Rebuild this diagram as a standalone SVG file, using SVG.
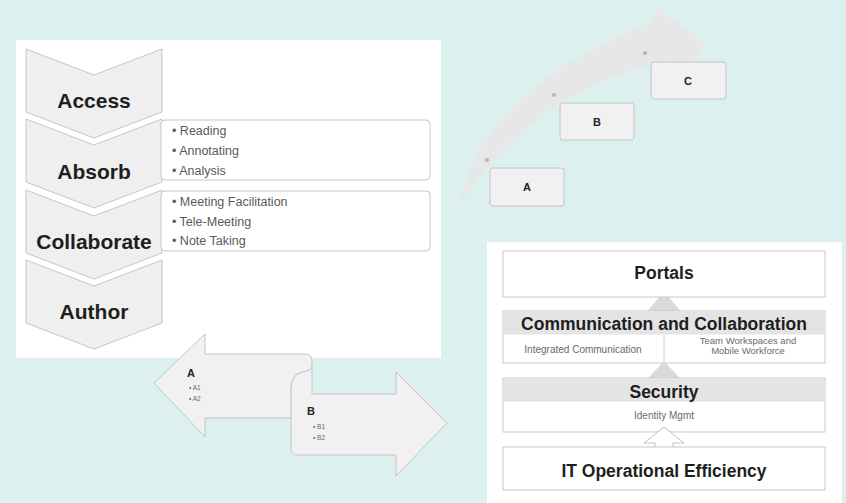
<svg xmlns="http://www.w3.org/2000/svg" width="846" height="503" viewBox="0 0 846 503">
<style>
.chev{fill:#efefef;stroke:#c6c6c6;stroke-width:1}
.lbl{font-family:"Liberation Sans",Arial,sans-serif;font-weight:bold;fill:#1e1e1e;text-anchor:middle}
.li{font-family:"Liberation Sans",Arial,sans-serif;font-size:12.5px;fill:#5a5a5a}
.tbox{fill:#fff;stroke:#c6c6c6;stroke-width:1}
.gbox{fill:#f1f1f1;stroke:#c4c4c4;stroke-width:1}
.sm{font-family:"Liberation Sans",Arial,sans-serif;font-weight:bold;fill:#222;text-anchor:middle}
.tiny{font-family:"Liberation Sans",Arial,sans-serif;font-size:6.5px;fill:#666}
.layer{fill:#fff;stroke:#c8c8c8;stroke-width:1}
.band{fill:#e4e4e4}
.sub{font-family:"Liberation Sans",Arial,sans-serif;font-size:10px;fill:#6a6a6a;text-anchor:middle}
.sub2{font-family:"Liberation Sans",Arial,sans-serif;font-size:9.5px;fill:#6a6a6a;text-anchor:middle}
.dot{fill:#b5b5b5}
</style>
<rect x="0" y="0" width="846" height="503" fill="#ddf0f0"/>
<rect x="16" y="40" width="425" height="318" fill="#fff"/>
<rect x="487" y="242" width="355" height="261" fill="#fff"/>

<g id="connectors">
  <path id="curved-arrow" d="M460,205 C472,140 520,75 652,22 L658,7 L707,45 L684,70 L671,60 C610,72 520,110 460,205 Z" fill="#e7e7e7"/>
  <circle class="dot" cx="487" cy="160" r="2"/>
  <circle class="dot" cx="554" cy="95" r="2"/>
  <circle class="dot" cx="645" cy="53" r="2"/>
  <path d="M664,292 L687,318 L641,318 Z" fill="#dadada"/>
  <path d="M664,361 L687,386 L641,386 Z" fill="#dadada"/>
</g>

<g id="chevron-access">
  <path class="chev" d="M26,49 L94,75 L162,49 L162,112 L94,138 L26,112 Z"/>
  <text class="lbl" x="94" y="108" font-size="21">Access</text>
</g>
<g id="chevron-absorb">
  <path class="chev" d="M26,119 L94,145 L162,119 L162,182 L94,208 L26,182 Z"/>
  <text class="lbl" x="94" y="179" font-size="21">Absorb</text>
</g>
<g id="chevron-collaborate">
  <path class="chev" d="M26,190 L94,216 L162,190 L162,253 L94,279 L26,253 Z"/>
  <text class="lbl" x="94" y="249" font-size="21">Collaborate</text>
</g>
<g id="chevron-author">
  <path class="chev" d="M26,260 L94,286 L162,260 L162,323 L94,349 L26,323 Z"/>
  <text class="lbl" x="94" y="319" font-size="21">Author</text>
</g>

<g id="box-absorb">
  <rect class="tbox" x="161" y="120" width="269" height="60" rx="4"/>
  <text class="li" x="172" y="135">• Reading</text>
  <text class="li" x="172" y="155">• Annotating</text>
  <text class="li" x="172" y="175">• Analysis</text>
</g>
<g id="box-collaborate">
  <rect class="tbox" x="161" y="191" width="269" height="60" rx="4"/>
  <text class="li" x="172" y="206">• Meeting Facilitation</text>
  <text class="li" x="172" y="226">• Tele-Meeting</text>
  <text class="li" x="172" y="245">• Note Taking</text>
</g>

<g id="step-a">
  <rect class="gbox" x="490" y="168" width="74" height="38" rx="3"/>
  <text class="sm" x="527" y="191" font-size="11">A</text>
</g>
<g id="step-b">
  <rect class="gbox" x="560" y="103" width="74" height="37" rx="3"/>
  <text class="sm" x="597" y="126" font-size="11">B</text>
</g>
<g id="step-c">
  <rect class="gbox" x="651" y="62" width="75" height="37" rx="3"/>
  <text class="sm" x="688" y="85" font-size="11">C</text>
</g>

<g id="arrow-a">
  <path class="gbox" d="M154,383 L205,334 L205,354 L305,354 Q312,354 312,361 L312,366 C312,372 301,371 296,375 C292,379 291,385 291,392 L291,418 L205,418 L205,437 Z"/>
  <text class="sm" x="191" y="377" font-size="11">A</text>
  <text class="tiny" x="189" y="390">• A1</text>
  <text class="tiny" x="189" y="401">• A2</text>
</g>
<g id="arrow-b">
  <path class="gbox" d="M291,394 C291,385 292,379 296,375 C301,371 312,372 312,366 L312,394 L396,394 L396,372 L447,423 L396,476 L396,455 L298,455 Q291,455 291,448 Z"/>
  <text class="sm" x="311" y="415" font-size="11">B</text>
  <text class="tiny" x="313" y="429">• B1</text>
  <text class="tiny" x="313" y="440">• B2</text>
</g>

<g id="layer-portals">
  <rect class="layer" x="503" y="251" width="322" height="46"/>
  <text class="lbl" x="664" y="279" font-size="17.5">Portals</text>
</g>
<g id="layer-communication">
  <rect class="layer" x="503" y="311" width="322" height="52"/>
  <rect class="band" x="503.5" y="311.5" width="321" height="23"/>
  <text class="lbl" x="664" y="330" font-size="17.5">Communication and Collaboration</text>
  <line x1="664" y1="335" x2="664" y2="363" stroke="#d0d0d0"/>
  <text class="sub" x="583" y="353">Integrated Communication</text>
  <text class="sub2" x="748" y="344">Team Workspaces and</text>
  <text class="sub2" x="748" y="354">Mobile Workforce</text>
</g>
<g id="layer-security">
  <rect class="layer" x="503" y="378" width="322" height="54"/>
  <rect class="band" x="503.5" y="378.5" width="321" height="23"/>
  <text class="lbl" x="664" y="398" font-size="17.5">Security</text>
  <text class="sub" x="664" y="419">Identity Mgmt</text>
</g>
<g id="hollow-arrow">
  <path d="M664,427 L684,443 L673,443 L673,449 L655,449 L655,443 L644,443 Z" fill="#fff" stroke="#bdbdbd"/>
</g>
<g id="layer-it">
  <rect class="layer" x="503" y="447" width="322" height="43"/>
  <text class="lbl" x="664" y="477" font-size="17.5">IT Operational Efficiency</text>
</g>
</svg>
